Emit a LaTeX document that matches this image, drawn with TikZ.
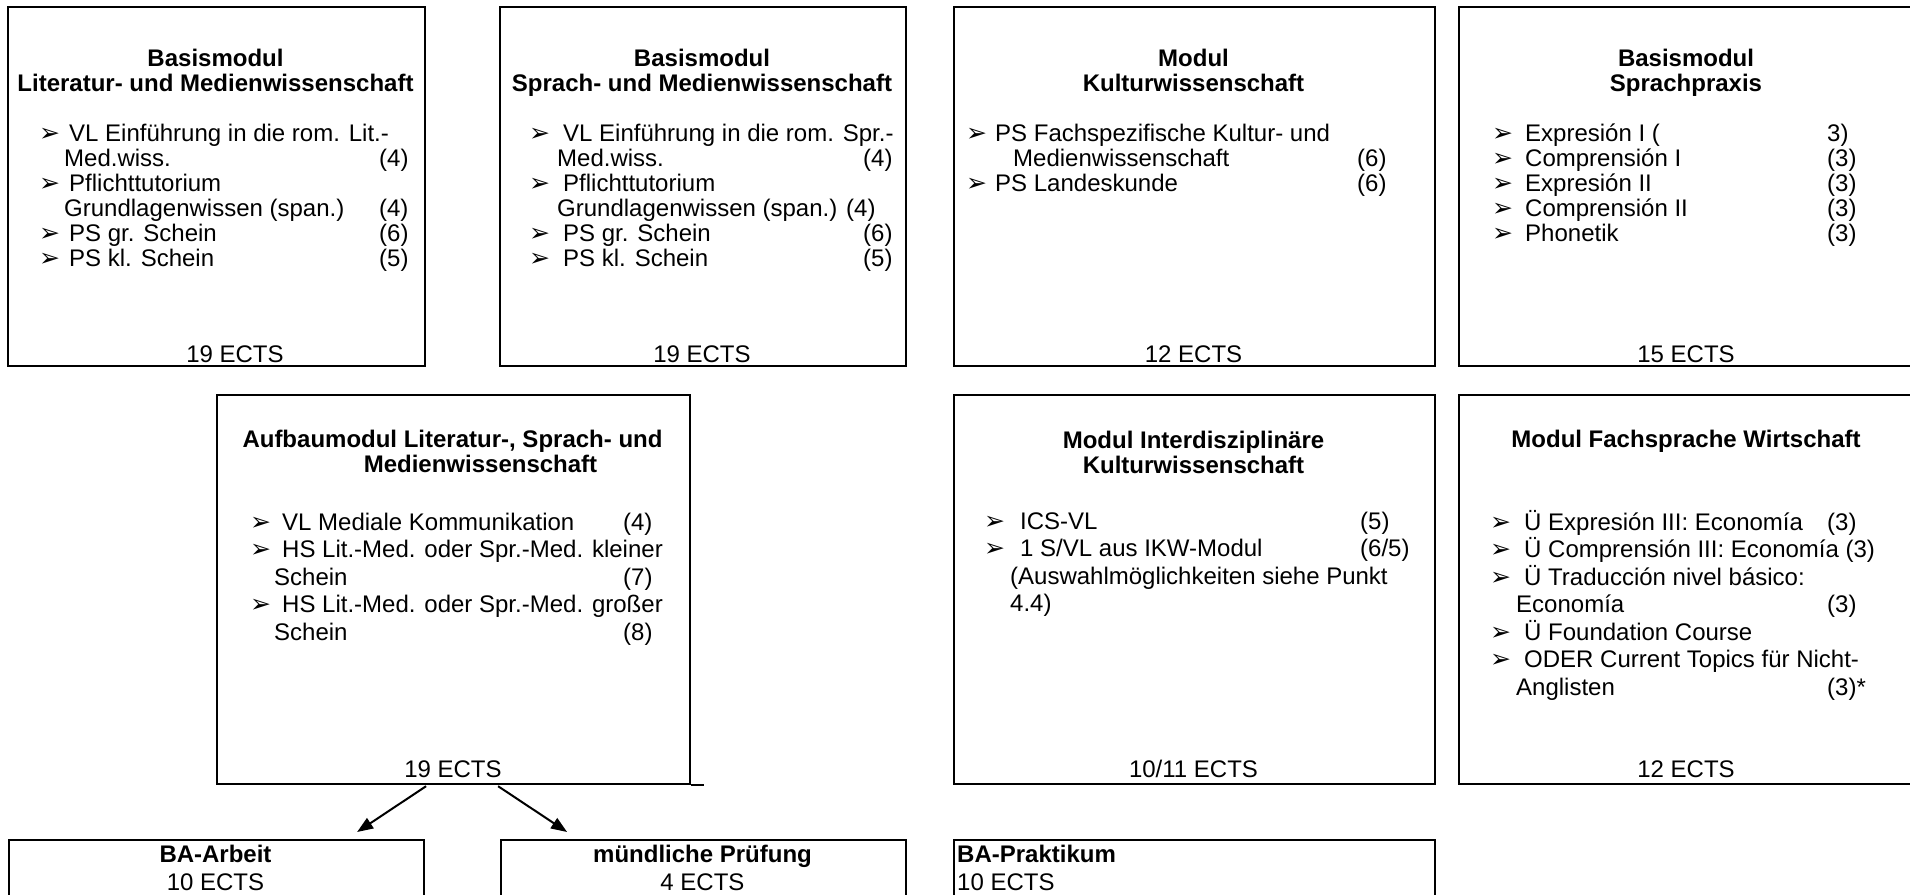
\documentclass[tikz,border=0pt]{standalone}
\usepackage{fontspec}
\setmainfont{Liberation Sans}
\newfontfamily\dejavu{DejaVu Sans}
\usetikzlibrary{arrows.meta,calc}
\tikzset{
  box/.style={draw, line width=2.2pt, inner sep=0pt, anchor=north west},
  lst/.style={anchor=base west, inner sep=0pt},
  ttl/.style={anchor=base, inner sep=0pt},
  ects/.style={anchor=base, inner sep=0pt},
  conn/.style={line width=2pt, -{Triangle[length=16pt,width=12pt]}}
}
\newcommand\arr{{\dejavu\fontsize{25}{25}\selectfont ➢}}
\newcommand\setcols[4]{\def\cA{#1}\def\cT{#2}\def\cC{#3}\def\cN{#4}}
\newcommand\LiB[2]{\noindent\rlap{\hspace*{\cA pt}\arr}\rlap{\hspace*{\cT pt}#1}\rlap{\hspace*{\cN pt}#2}\par}
\newcommand\LiC[2]{\noindent\rlap{\hspace*{\cC pt}#1}\rlap{\hspace*{\cN pt}#2}\par}
\newcommand\ttlbox[1]{\begin{minipage}[t]{470pt}\centering\bfseries\fontsize{24}{25.5}\selectfont #1\end{minipage}}
\newcommand\tight{\fontsize{24}{25}\selectfont}
\begin{document}
\begin{tikzpicture}[x=1pt,y=-1pt,font=\fontsize{24}{27.5}\selectfont]
\useasboundingbox (0,0) rectangle (1910,894);
\fill[white] (0,0) rectangle (1910,894);

% ---------- boxes ----------
\node[box, minimum width=417pt, minimum height=359pt] (A) at (7,6) {};
\node[box, minimum width=406pt, minimum height=359pt] (B) at (499,6) {};
\node[box, minimum width=481pt, minimum height=359pt] (C) at (953,6) {};
\node[box, minimum width=456pt, minimum height=359pt] (D) at (1458,6) {};
\node[box, minimum width=473pt, minimum height=389pt] (E) at (216,394) {};
\node[box, minimum width=481pt, minimum height=389pt] (F) at (953,394) {};
\node[box, minimum width=456pt, minimum height=389pt] (G) at (1458,394) {};
\draw[line width=2.2pt] (E.south east) -- ++(13,0);
\node[box, minimum width=415pt, minimum height=100pt] (H) at (8,839) {};
\node[box, minimum width=405pt, minimum height=100pt] (I) at (500,839) {};
\node[box, minimum width=481pt, minimum height=100pt] (J) at (953,839) {};

% ---------- titles ----------
\node[ttl] (At) at (215.5,66) {\ttlbox{Basismodul\\Literatur- und Medienwissenschaft}};
\node[ttl] (Bt) at (702,66) {\ttlbox{Basismodul\\Sprach- und Medienwissenschaft}};
\node[ttl] (Ct) at (1193.5,66) {\ttlbox{Modul\\Kulturwissenschaft}};
\node[ttl] (Dt) at (1686,66) {\ttlbox{Basismodul\\Sprachpraxis}};
\node[ttl] (Et) at (452.5,447) {\ttlbox{Aufbaumodul Literatur-, Sprach- und\\\hspace*{56pt}Medienwissenschaft}};
\node[ttl] (Ft) at (1193.5,448) {\ttlbox{Modul Interdisziplinäre\\Kulturwissenschaft}};
\node[ttl] (Gt) at (1686,447) {\ttlbox{Modul Fachsprache Wirtschaft}};

% ---------- lists ----------
\node[lst] (Al) at (7,141) {\begin{minipage}[t]{20pt}\tight\setcols{32}{62}{57}{372}
\LiB{VL Einführung in die rom. Lit.-}{}
\LiC{Med.wiss.}{(4)}
\LiB{Pflichttutorium}{}
\LiC{Grundlagenwissen (span.)}{(4)}
\LiB{PS gr. Schein}{(6)}
\LiB{PS kl. Schein}{(5)}
\end{minipage}};
\node[lst] (Bl) at (499,141) {\begin{minipage}[t]{20pt}\tight\setcols{30}{64}{58}{364}
\LiB{VL Einführung in die rom. Spr.-}{}
\LiC{Med.wiss.}{(4)}
\LiB{Pflichttutorium}{}
\LiC{Grundlagenwissen (span.) (4)}{}
\LiB{PS gr. Schein}{(6)}
\LiB{PS kl. Schein}{(5)}
\end{minipage}};
\node[lst] (Cl) at (953,141) {\begin{minipage}[t]{20pt}\tight\setcols{13}{42}{60}{404}
\LiB{PS Fachspezifische Kultur- und}{}
\LiC{Medienwissenschaft}{(6)}
\LiB{PS Landeskunde}{(6)}
\end{minipage}};
\node[lst] (Dl) at (1458,141) {\begin{minipage}[t]{20pt}\tight\setcols{34}{67}{58}{369}
\LiB{Expresión I (}{3)}
\LiB{Comprensión I}{(3)}
\LiB{Expresión II}{(3)}
\LiB{Comprensión II}{(3)}
\LiB{Phonetik}{(3)}
\end{minipage}};
\node[lst] (El) at (216,530) {\begin{minipage}[t]{20pt}\setcols{34}{66}{58}{407}
\LiB{VL Mediale Kommunikation}{(4)}
\LiB{HS Lit.-Med. oder Spr.-Med. kleiner}{}
\LiC{Schein}{(7)}
\LiB{HS Lit.-Med. oder Spr.-Med. großer}{}
\LiC{Schein}{(8)}
\end{minipage}};
\node[lst] (Fl) at (953,529) {\begin{minipage}[t]{20pt}\setcols{31}{67}{57}{407}
\LiB{ICS-VL}{(5)}
\LiB{1 S/VL aus IKW-Modul}{(6/5)}
\LiC{(Auswahlmöglichkeiten siehe Punkt}{}
\LiC{4.4)}{}
\end{minipage}};
\node[lst] (Gl) at (1458,530) {\begin{minipage}[t]{20pt}\setcols{32}{66}{58}{369}
\LiB{Ü Expresión III: Economía}{(3)}
\LiB{Ü Comprensión III: Economía (3)}{}
\LiB{Ü Traducción nivel básico:}{}
\LiC{Economía}{(3)}
\LiB{Ü Foundation Course}{}
\LiB{ODER Current Topics für Nicht-}{}
\LiC{Anglisten}{(3)*}
\end{minipage}};

% ---------- ECTS ----------
\node[ects] (Ae) at (235,362) {19 ECTS};
\node[ects] (Be) at (702,362) {19 ECTS};
\node[ects] (Ce) at (1193.5,362) {12 ECTS};
\node[ects] (De) at (1686,362) {15 ECTS};
\node[ects] (Ee) at (453,777) {19 ECTS};
\node[ects] (Fe) at (1193.5,777) {10/11 ECTS};
\node[ects] (Ge) at (1686,777) {12 ECTS};

% ---------- bottom texts ----------
\node[ttl] (Ht) at (215.5,862) {\begin{minipage}[t]{400pt}\centering\fontsize{24}{28}\selectfont\textbf{BA-Arbeit}\\10 ECTS\end{minipage}};
\node[ttl] (It) at (702.5,862) {\begin{minipage}[t]{400pt}\centering\fontsize{24}{28}\selectfont\textbf{mündliche Prüfung}\\4 ECTS\end{minipage}};
\node[lst] (Jt) at (957,862) {\begin{minipage}[t]{400pt}\fontsize{24}{28}\selectfont\textbf{BA-Praktikum}\\10 ECTS\end{minipage}};

% ---------- connectors ----------
\coordinate (s1) at ($(E.south)+(-27.5,1)$);
\coordinate (t1) at ($(H.north)+(140.5,-7)$);
\coordinate (s2) at ($(E.south)+(44.5,1)$);
\coordinate (t2) at ($(I.north)+(-136.5,-7)$);
\draw[conn] (s1) -- (t1);
\draw[conn] (s2) -- (t2);
\end{tikzpicture}
\end{document}
